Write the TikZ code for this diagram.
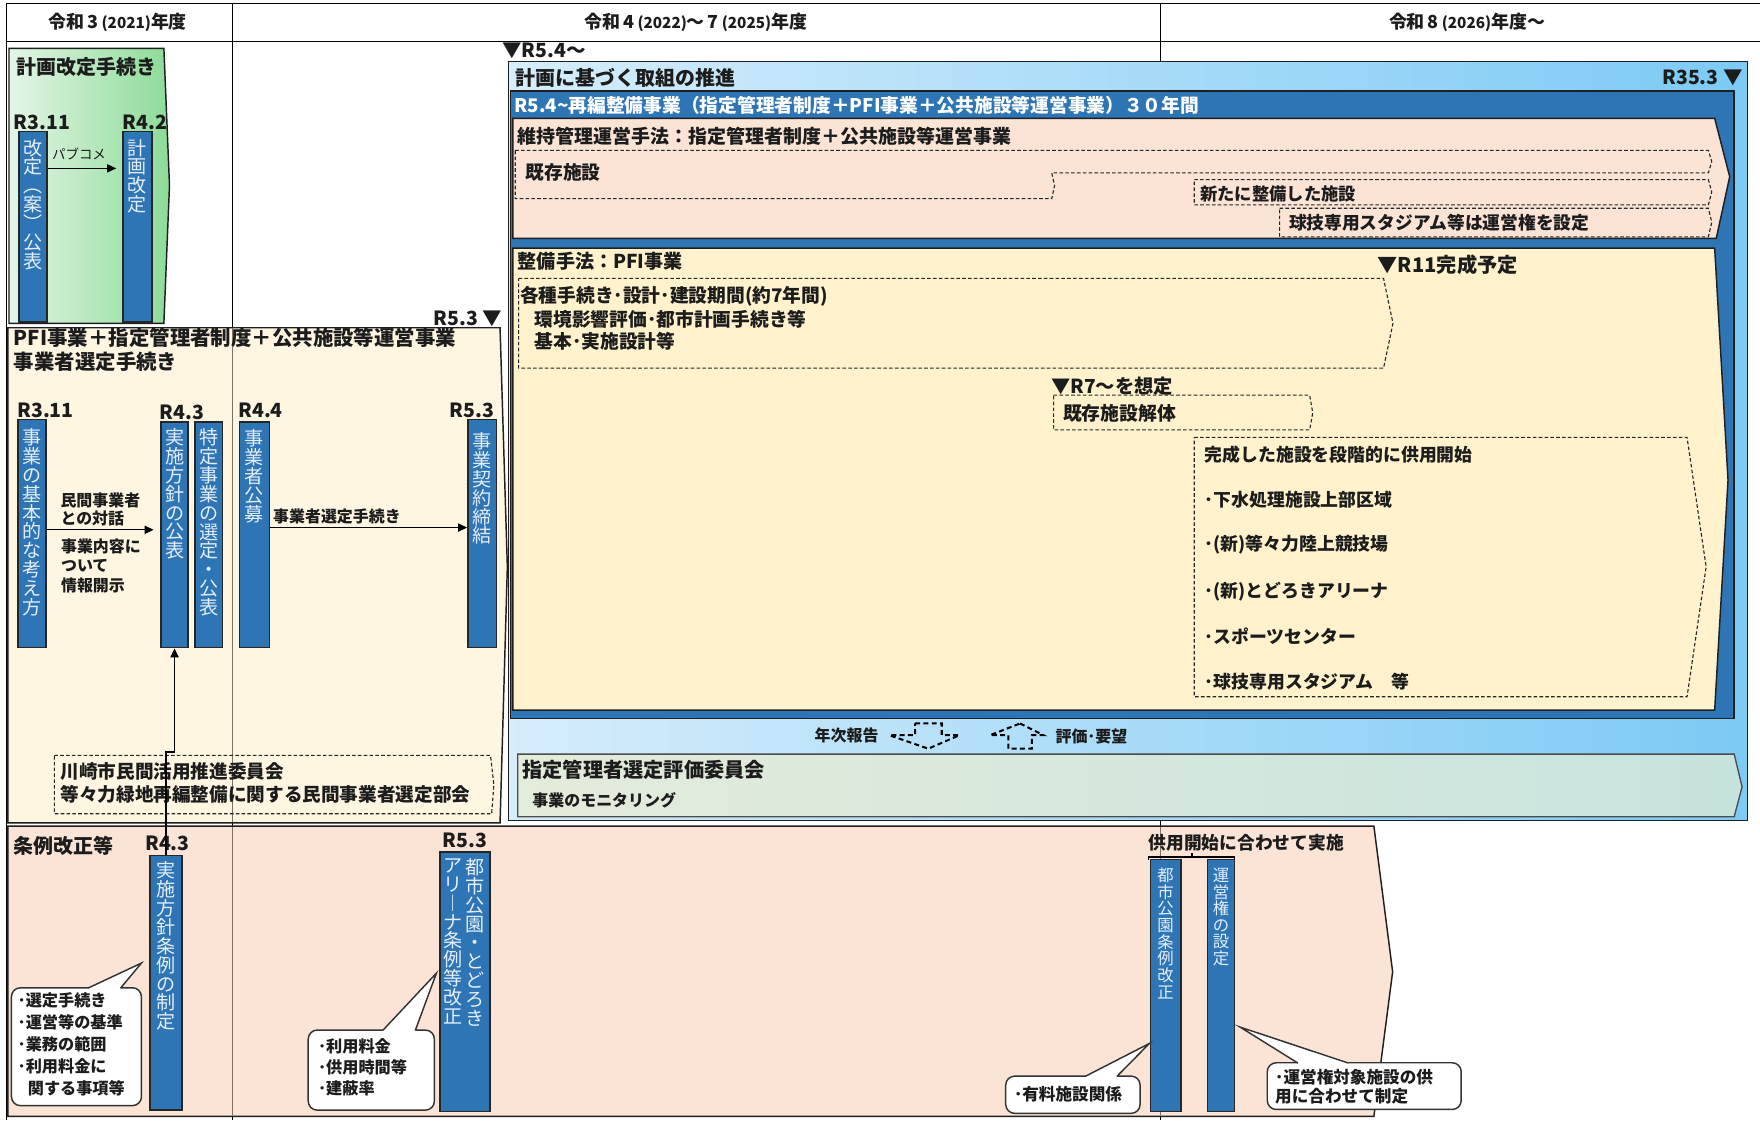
\documentclass[tikz,border=0pt]{standalone}
\usepackage{fontspec}
\setmainfont{Noto Sans CJK JP}
\newfontfamily\vfont{Noto Sans CJK JP}
\usetikzlibrary{arrows.meta,fit}
\definecolor{txt}{RGB}{28,28,28}
\definecolor{barblue}{RGB}{46,117,182}
\definecolor{bartxt}{RGB}{228,237,248}
\definecolor{peach}{RGB}{251,228,214}
\definecolor{cream}{RGB}{255,242,204}
\definecolor{pficream}{RGB}{255,246,226}
\definecolor{grL}{RGB}{228,245,230}
\definecolor{grR}{RGB}{141,219,152}
\definecolor{lbL}{RGB}{214,237,251}
\definecolor{lbR}{RGB}{124,202,245}
\definecolor{moL}{RGB}{228,236,219}
\definecolor{moR}{RGB}{199,227,222}
\definecolor{divc}{RGB}{125,112,100}
\newcommand\fsz[1]{\fontsize{#1pt}{#1pt}\selectfont}
\newcommand\fszb[2]{\fontsize{#1pt}{#2pt}\selectfont}
\tikzset{
  t/.style={inner sep=0pt, anchor=west, text=txt},
  ttl/.style={t, font=\bfseries\fsz{8.9}},
  dt/.style={t, font=\bfseries\fsz{8.7}},
  sm/.style={t, align=left, font=\bfseries\fszb{7.1}{8}},
  md/.style={t, font=\bfseries\fsz{8.35}},
  hd/.style={inner sep=0pt, text=txt, font=\bfseries\fsz{8}},
  box/.style={draw=black!88, line width=0.65pt},
  bar/.style={draw=black!85, fill=barblue, line width=0.6pt, inner sep=0pt},
  vt/.style={text=bartxt, align=center, inner sep=0pt, anchor=north, font=\vfont\fszb{8.5}{8.4}},
  vts/.style={vt, font=\vfont\fszb{7.3}{7.4}},
  dsh/.style={draw=black!85, line width=0.5pt, dash pattern=on 1.6pt off 1pt},
  dsharr/.style={draw=black, line width=0.9pt, dash pattern=on 2.2pt off 1.5pt},
  arr/.style={draw=black, line width=0.6pt, -{Triangle[length=4pt,width=3.6pt]}},
  call/.style={draw=black!80, line width=0.65pt},
  tbl/.style={draw=black, line width=0.6pt},
}
\begin{document}
\begin{tikzpicture}[x=0.5pt,y=-0.5pt]
\useasboundingbox (0,0) rectangle (1568,998);
\fill[white] (0,0) rectangle (1568,998);
% table
\draw[tbl] (6,3) -- (1568,3);
\draw[tbl] (6,37) -- (1568,37);
\draw[tbl] (6,3) -- (6,998);
\draw[tbl] (207,3) -- (207,998);
\draw[tbl] (1034,3) -- (1034,998);
\node[hd] (h1) at (105,20) {令和\,3\,{\fsz{6.8}(2021)}年度};
\node[hd] (h2) at (620,20) {令和\,4\,{\fsz{6.8}(2022)}～\,7\,{\fsz{6.8}(2025)}年度};
\node[hd] (h3) at (1307,20) {令和\,8\,{\fsz{6.8}(2026)}年度～};

% green box
\shadedraw[box, left color=grL, right color=grR] (8,43) -- (146,43) -- (151,165) -- (146,288) -- (8,288) -- cycle;
\node[ttl] (gT) at (14,60) {計画改定手続き};
\node[dt] (gD1) at (12,109) {R3.11};
\node[dt] (gD2) at (109,109) {R4.2};
\node[bar, fit={(17,117) (42,287)}] (g1) {};
\node[bar, fit={(109.5,117) (135.5,287)}] (g2) {};
\node[vt] (g1t) at (29.5,123.5) {改\\定\\︵\\案\\︶\\公\\表};
\node[vt] (g2t) at (122.5,123.5) {計\\画\\改\\定};
\coordinate (yPab) at (0,150);
\draw[arr, shorten >=2.7pt] (g1.east |- yPab) -- (g2.west |- yPab);
\node[t, font=\fsz{6}] (pab) at (46,137) {パブコメ};

% PFI box and ordinance box
\draw[box, fill=pficream] (7,292) -- (445.5,292) -- (452,505) -- (445.5,733) -- (7,733) -- cycle;
\draw[box, fill=peach] (7,736) -- (1224,736) -- (1240.7,865.8) -- (1224,994.5) -- (7,994.5) -- cycle;
\draw[divc, line width=0.45pt] (207,292.5) -- (207,732.5) (207,736.5) -- (207,994) (1034,736.5) -- (1034,994);

\node[t, font=\bfseries\fsz{9.1}] (pT1) at (12,301) {PFI事業＋指定管理者制度＋公共施設等運営事業};
\node[t, font=\bfseries\fsz{9.1}] (pT2) at (12,322) {事業者選定手続き};
\node[dt] (pR5) at (386,284) {R5.3 ▼};
\node[dt] (pD1) at (15,366) {R3.11};
\node[dt] (pD2) at (142,367) {R4.3};
\node[dt] (pD3) at (212,366) {R4.4};
\node[dt] (pD4) at (400,366) {R5.3};
\node[bar, fit={(16,374) (41,577)}] (pA) {};
\node[bar, fit={(143.5,376) (167.5,577)}] (pB) {};
\node[bar, fit={(173.8,376) (198,577)}] (pC) {};
\node[bar, fit={(213.3,376) (240,577)}] (pD) {};
\node[bar, fit={(416.8,374) (442.6,577)}] (pE) {};
\node[vt] (pAt) at (28.5,381.5) {事\\業\\の\\基\\本\\的\\な\\考\\え\\方};
\node[vt] (pBt) at (155.5,381.5) {実\\施\\方\\針\\の\\公\\表};
\node[vt] (pCt) at (186,381.5) {特\\定\\事\\業\\の\\選\\定\\・\\公\\表};
\node[vt] (pDt) at (226.7,382.5) {事\\業\\者\\公\\募};
\node[vt] (pEt) at (429.7,385) {事\\業\\契\\約\\締\\結};
\coordinate (yA1) at (0,472);
\coordinate (yA2) at (0,470);
\draw[arr, shorten >=3pt] (pA.east |- yA1) -- (pB.west |- yA1);
\draw[arr] (pD.east |- yA2) -- (pE.west |- yA2);
\node[sm] (pL1) at (53.5,453.6) {民間事業者\\との対話};
\node[sm, font=\bfseries\fszb{7.1}{8.7}] (pL2) at (54,504) {事業内容に\\ついて\\情報開示};
\node[sm] (pL3) at (243,460) {事業者選定手続き};
\draw[dsh] (48.4,673) -- (437,673) -- (440,699) -- (438,725) -- (48.4,725) -- cycle;
\node[t, font=\bfseries\fsz{8.3}] (k1) at (53.5,687) {川崎市民間活用推進委員会};
\node[t, font=\bfseries\fsz{8.3}] (k2) at (53.5,707.5) {等々力緑地再編整備に関する民間事業者選定部会};

% ordinance contents
\node[ttl] (cT) at (12,754) {条例改正等};
\node[dt] (cD1) at (129,751) {R4.3};
\node[dt] (cD2) at (394,749) {R5.3};
\node[bar, fit={(133.6,762) (162,989)}] (cA) {};
\node[bar, fit={(392,759) (436.6,990.5)}] (cB) {};
\node[bar, fit={(1025,765.6) (1052,990.5)}] (cC) {};
\node[bar, fit={(1075.6,765.6) (1100,990.5)}] (cD) {};
\node[vt] (cAt) at (147.8,767.5) {実\\施\\方\\針\\条\\例\\の\\制\\定};
\node[vt] (cBt1) at (422.8,764.5) {都\\市\\公\\園\\・\\と\\ど\\ろ\\き};
\node[vt] (cBt2) at (403.4,764.5) {ア\\リ\\︱\\ナ\\条\\例\\等\\改\\正};
\node[vts] (cCt) at (1038.5,773) {都\\市\\公\\園\\条\\例\\改\\正};
\node[vts] (cDt) at (1087.8,773) {運\\営\\権\\の\\設\\定};
\node[t, font=\bfseries\fsz{7.9}] (cK) at (1023,751) {供用開始に合わせて実施};
\draw[line width=0.6pt] (1023,766) -- (1023,763.6) -- (1100,763.6) -- (1100,766);
\draw[line width=0.6pt] (1061.8,763.6) -- (1061.8,759.5);

% callouts
\filldraw[call, fill=white, rounded corners=4pt] (10.2,880) rectangle (126,985);
\fill[white] (78.4,881.5) -- (78.4,880) -- (126,858) -- (107.4,880) -- (107.4,881.5) -- cycle;
\draw[call] (78.4,880.3) -- (126,858) -- (107.4,880.3);
\node[t, align=left, font=\bfseries\fszb{7.2}{9.8}] (co1) at (15.4,930) {･選定手続き\\･運営等の基準\\･業務の範囲\\･利用料金に\\\hspace{4.5pt}関する事項等};
\filldraw[call, fill=white, rounded corners=4pt] (274.6,917.7) rectangle (387,989);
\fill[white] (341,919.2) -- (341,917.7) -- (388.8,867) -- (370,917.7) -- (370,919.2) -- cycle;
\draw[call] (341,918) -- (388.8,867) -- (370,918);
\node[t, align=left, font=\bfseries\fszb{7.2}{9.25}] (co2) at (283,951) {･利用料金\\･供用時間等\\･建蔽率};
\filldraw[call, fill=white, rounded corners=4pt] (896,958.7) rectangle (1015.7,991.9);
\fill[white] (966.7,960.2) -- (966.7,958.7) -- (1024,929.6) -- (995,958.7) -- (995,960.2) -- cycle;
\draw[call] (966.7,959) -- (1024,929.6) -- (995,959);
\node[t, font=\bfseries\fsz{7.4}] (co3) at (903,975) {･有料施設関係};
\filldraw[call, fill=white, rounded corners=4pt] (1129,946.8) rectangle (1301.8,988.4);
\fill[white] (1156.3,948.3) -- (1156.3,946.8) -- (1104.8,915) -- (1201.3,946.8) -- (1201.3,948.3) -- cycle;
\draw[call] (1156.3,947.1) -- (1104.8,915) -- (1201.3,947.1);
\node[t, align=left, font=\bfseries\fszb{7.4}{8.6}] (co4) at (1135.7,968) {･運営権対象施設の供\\用に合わせて制定};

% connector committee -> bar
\coordinate (jy) at (0,670);
\draw[arr] (cA.north) -- (cA.north |- jy) -| (pB.south);

% big plan box
\shadedraw[box, left color=lbL, right color=lbR] (453,55) rectangle (1557,731);
\node[dt] (bR54) at (447,45) {▼R5.4～};
\node[ttl] (bT) at (459,69) {計画に基づく取組の推進};
\node[dt, anchor=east] (bR35) at (1553,69) {R35.3 ▼};
\draw[box, fill=barblue] (455,81) rectangle (1545,640);
\node[t, text=white, font=\bfseries\fsz{8.35}] (bT2) at (458,94) {R5.4{\char"7E}再編整備事業（指定管理者制度＋PFI事業＋公共施設等運営事業）３０年間};

% maintenance box
\draw[box, fill=peach] (457,105.4) -- (1527.6,105.4) -- (1541,157.4) -- (1529,212.4) -- (457,212.4) -- cycle;
\node[t, font=\bfseries\fsz{8.45}] (mT) at (461,121) {維持管理運営手法：指定管理者制度＋公共施設等運営事業};
\draw[dsh] (459,134) -- (1522,134) -- (1525,144) -- (1522,154) -- (937,154) -- (939.5,165.5) -- (937,177) -- (459,177) -- cycle;
\node[md] (m1) at (468,154) {既存施設};
\draw[dsh] (1064,160) -- (1522,160) -- (1525,171) -- (1522,182.5) -- (1064,182.5) -- cycle;
\node[t, font=\bfseries\fsz{7.7}] (m2) at (1069,172.5) {新たに整備した施設};
\draw[dsh] (1140,185.5) -- (1522,185.5) -- (1525,198) -- (1522,211) -- (1140,211) -- cycle;
\node[t, font=\bfseries\fsz{7.9}] (m3) at (1148,198.4) {球技専用スタジアム等は運営権を設定};

% construction box
\draw[box, fill=cream] (457,221) -- (1527.6,221) -- (1539.5,427.7) -- (1527.6,632.6) -- (457,632.6) -- cycle;
\node[t, font=\bfseries\fsz{8.5}] (sT) at (461,233) {整備手法：PFI事業};
\node[t, font=\bfseries\fsz{9}] (sR11) at (1227,236) {▼R11完成予定};
\draw[dsh] (462,248) -- (1232.6,248) -- (1241,288) -- (1232.6,328) -- (462,328) -- cycle;
\node[md] (s1) at (463,264) {各種手続き･設計･建設期間(約7年間)};
\node[md] (s2) at (476,284.5) {環境影響評価･都市計画手続き等};
\node[md] (s3) at (476,304.5) {基本･実施設計等};
\node[t, font=\bfseries\fsz{8.6}] (sR7) at (936,344) {▼R7～を想定};
\draw[dsh] (938.7,352) -- (1166.8,352) -- (1169.5,367.7) -- (1166.8,383) -- (938.7,383) -- cycle;
\node[t, font=\bfseries\fsz{8.4}] (s4) at (946.7,368) {既存施設解体};
\draw[dsh] (1064,389.7) -- (1503,389.7) -- (1520,505) -- (1503,620.7) -- (1064,620.7) -- cycle;
\node[t, font=\bfseries\fsz{7.95}] (s5) at (1073,405.4) {完成した施設を段階的に供用開始};
\node[t, font=\bfseries\fsz{7.95}] (s6) at (1073,445.5) {･下水処理施設上部区域};
\node[t, font=\bfseries\fsz{7.95}] (s7) at (1073,485.6) {･(新)等々力陸上競技場};
\node[t, font=\bfseries\fsz{7.95}] (s8) at (1073,527.2) {･(新)とどろきアリーナ};
\node[t, font=\bfseries\fsz{7.95}] (s9) at (1073,567.3) {･スポーツセンター};
\node[t, font=\bfseries\fsz{7.95}] (s10) at (1073,607.4) {･球技専用スタジアム　等};

% monitoring band
\node[t, anchor=east, font=\bfseries\fsz{7.1}] (yr) at (783,655) {年次報告};
\draw[dsharr] (815.3,644.5) -- (839,644.5) -- (839,655) -- (854.7,655) -- (827,667) -- (792.4,655) -- (815.3,655) -- cycle;
\draw[dsharr] (908.8,644.5) -- (929.6,655) -- (919.2,655) -- (919.2,667) -- (898.4,667) -- (898.4,655) -- (882,655) -- cycle;
\node[t, font=\bfseries\fsz{7.1}] (ev) at (940,656.4) {評価･要望};
\shadedraw[draw=black!70, line width=0.6pt, left color=moL, right color=moR] (461.3,671.8) -- (1545,671.8) -- (1552,701) -- (1545,727.6) -- (461.3,727.6) -- cycle;
\node[t, font=\bfseries\fsz{9}] (mo1) at (465,686) {指定管理者選定評価委員会};
\node[t, font=\bfseries\fsz{7.1}] (mo2) at (474,713) {事業のモニタリング};
\end{tikzpicture}
\end{document}
